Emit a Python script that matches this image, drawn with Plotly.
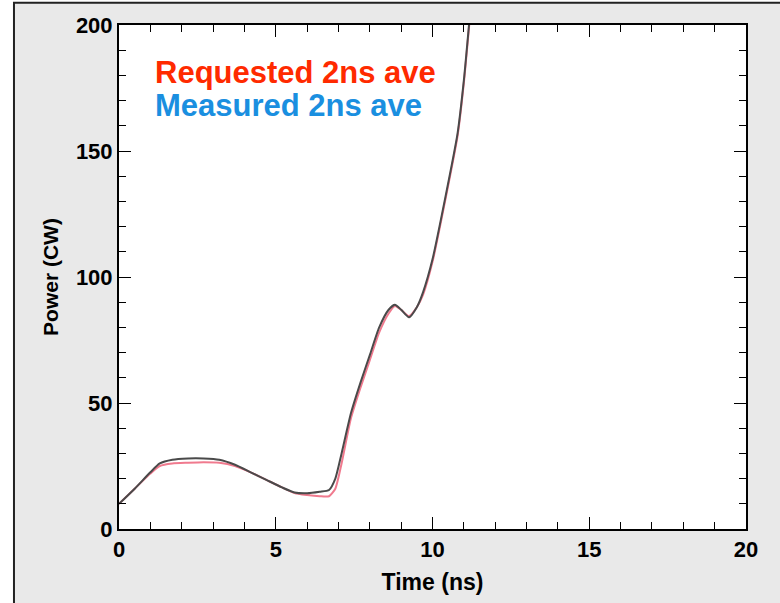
import plotly.graph_objects as go

# Time axis (ns) and 2 ns averaged power (CW)
time_ns = [0, 0.5, 1.0, 1.3, 1.7, 2.2, 2.7, 3.2, 3.7, 4.2, 4.7, 5.2, 5.6, 6.0,
           6.4, 6.7, 6.9, 7.1, 7.4, 7.7, 8.0, 8.3, 8.6, 8.8, 9.0, 9.25, 9.5,
           9.7, 10.0, 10.4, 10.8, 11.0, 11.2]
requested = [10, 16, 22, 25, 26, 26.3, 26.5, 26.3, 25, 22.5, 19.5, 16.5, 14.3,
             13.5, 13, 13, 16, 26, 44, 56, 67, 78, 85.5, 88.5, 87, 84.5, 88, 93,
             106, 130, 156, 177, 204]
measured = [10, 16, 22.5, 26, 27.5, 28, 28, 27.5, 25.5, 22.5, 19.5, 16.5, 14.5,
            14.2, 14.8, 15.5, 20, 30, 46, 58, 69, 80, 87, 89, 87, 84, 88, 94,
            107, 131, 157, 178, 205]

x_ticks = [0, 5, 10, 15, 20]
y_ticks = [0, 50, 100, 150, 200]

FONT = "Liberation Sans"

fig = go.Figure()
fig.add_trace(go.Scatter(x=time_ns, y=requested, mode="lines",
                         line=dict(color="#f07a8e", width=2, shape="spline",
                                   smoothing=0.6),
                         name="Requested 2ns ave"))
fig.add_trace(go.Scatter(x=time_ns, y=measured, mode="lines",
                         line=dict(color="#4a4a4a", width=2, shape="spline",
                                   smoothing=0.6),
                         name="Measured 2ns ave"))

axis_common = dict(
    showgrid=False, zeroline=False,
    showline=True, linecolor="black", linewidth=2, mirror="allticks",
    ticks="inside", ticklen=12, tickwidth=1, tickcolor="black",
    tickfont=dict(family=FONT, size=22, color="black", weight="bold"),
)

fig.update_xaxes(range=[0, 20], tickvals=x_ticks,
                 minor=dict(dtick=1, ticks="inside", ticklen=7,
                            tickcolor="black", tickwidth=1),
                 title=dict(text="<b>Time (ns)</b>", standoff=12,
                            font=dict(family=FONT, size=23, color="black")),
                 **axis_common)
fig.update_yaxes(range=[0, 200], tickvals=y_ticks,
                 minor=dict(dtick=10, ticks="inside", ticklen=7,
                            tickcolor="black", tickwidth=1),
                 title=dict(text="<b>Power (CW)</b>", standoff=12,
                            font=dict(family=FONT, size=21, color="black")),
                 **axis_common)

# grey panel behind the plot with a dark frame, white plotting area on top
fig.add_shape(type="rect", xref="paper", yref="paper",
              x0=-0.1675, x1=1.3, y0=-0.3, y1=1.044,
              fillcolor="#e9e9e9", line=dict(color="#222", width=2),
              layer="below")
fig.add_shape(type="rect", xref="paper", yref="paper",
              x0=0, x1=1, y0=0, y1=1,
              fillcolor="white", line=dict(width=0),
              layer="below")

fig.add_annotation(x=0.054, y=0.905, xref="paper", yref="paper",
                   xanchor="left", yanchor="middle", showarrow=False,
                   text="<b>Requested 2ns ave</b>",
                   font=dict(family=FONT, size=31, color="#ff2a00"))
fig.add_annotation(x=0.054, y=0.840, xref="paper", yref="paper",
                   xanchor="left", yanchor="middle", showarrow=False,
                   text="<b>Measured 2ns ave</b>",
                   font=dict(family=FONT, size=31, color="#1a8fe0"))

fig.update_layout(
    width=780, height=603,
    margin=dict(l=119, r=34, t=25, b=74),
    paper_bgcolor="white", plot_bgcolor="white",
    showlegend=False,
)

fig.write_html("out.html")
